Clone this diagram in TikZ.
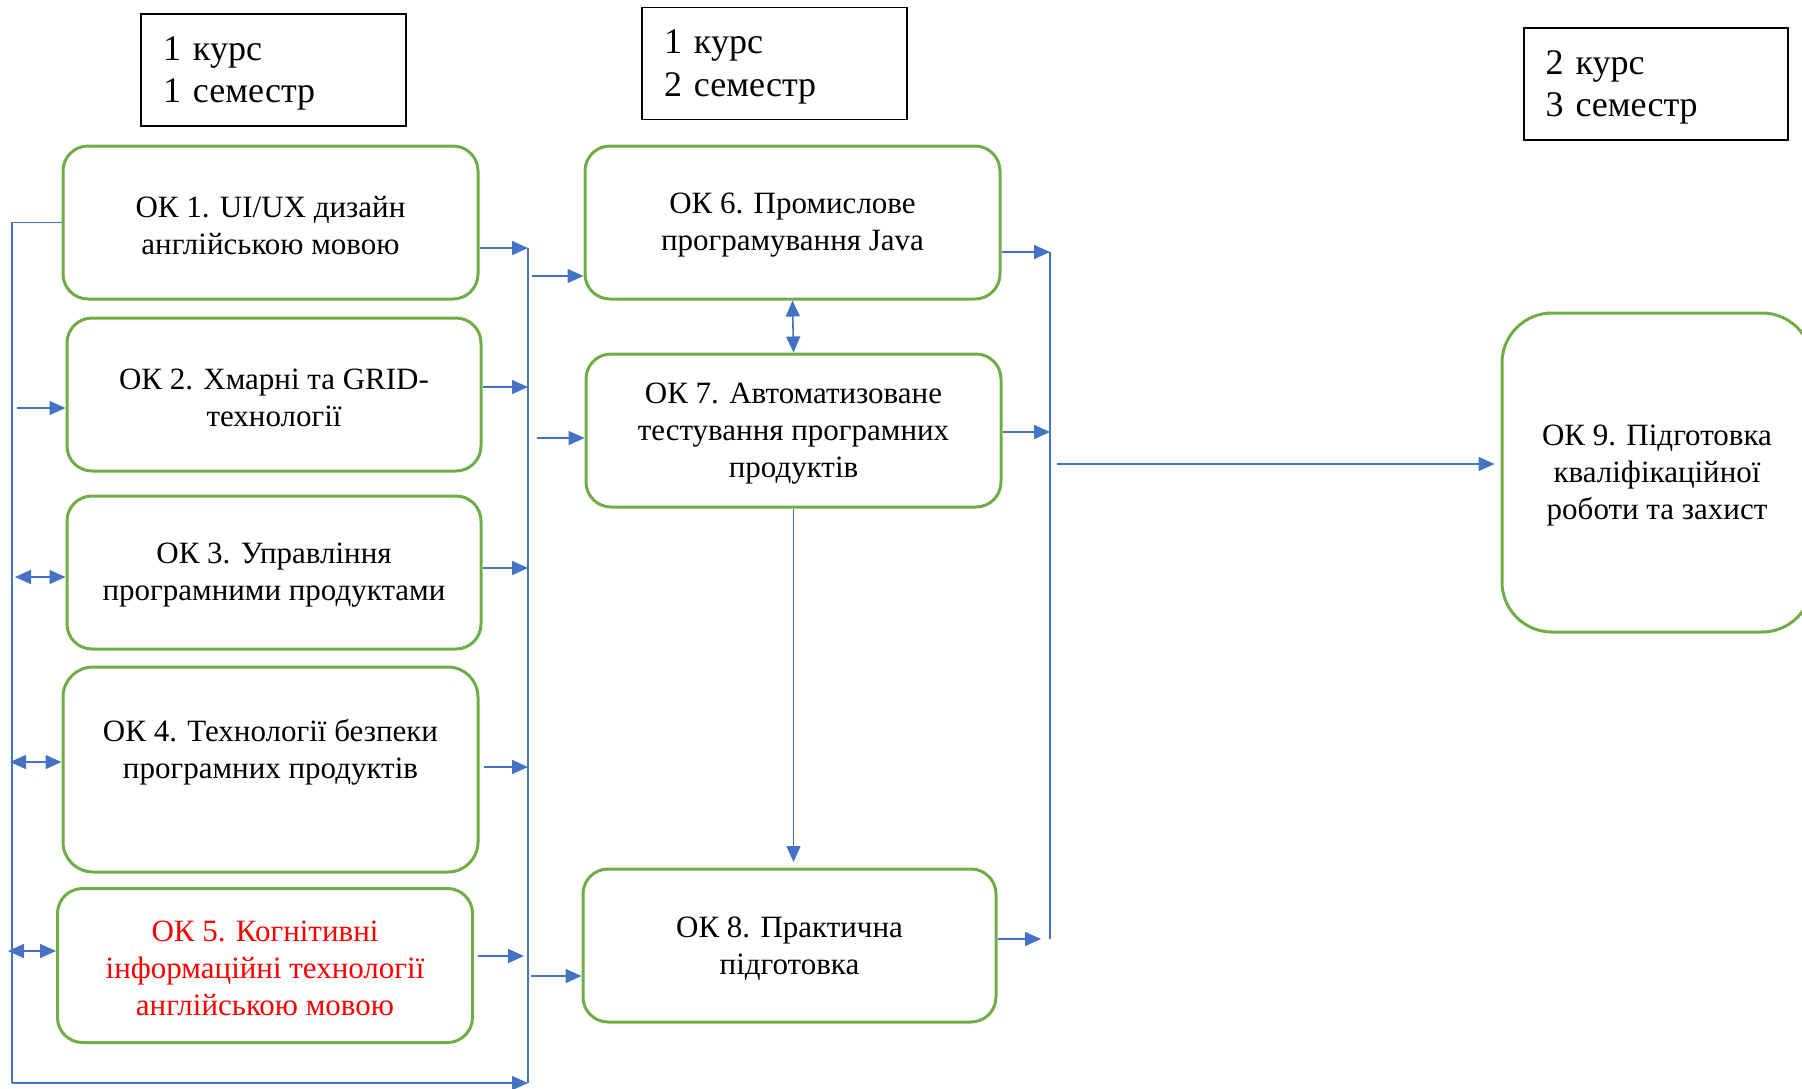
\documentclass[tikz,border=0pt]{standalone}
\usepackage{fontspec}
\setmainfont{Liberation Serif}
\newfontfamily\tnr{Liberation Serif}
\usetikzlibrary{arrows.meta,calc}
\definecolor{okgreen}{HTML}{70AD47}
\definecolor{okblue}{HTML}{4472C4}
\definecolor{okred}{HTML}{FF0000}
\begin{document}
\begin{tikzpicture}[x=1pt,y=-1pt,
  box/.style={draw=okgreen, line width=3pt, rounded corners=25pt,
    inner sep=0pt, minimum width=415pt, minimum height=153pt},
  boxtext/.style={align=center, font=\tnr\fontsize{31}{37}\selectfont, inner sep=0pt},
  hdr/.style={draw=black, line width=1.4pt, inner sep=0pt, minimum height=112pt},
  hdrtext/.style={align=left, inner sep=0pt, font=\tnr\fontsize{36}{42.5}\selectfont, text width=224pt},
  wire/.style={draw=okblue, line width=1.6pt},
  buswire/.style={draw=okblue, line width=2.2pt},
  arr/.style={draw=okblue, line width=1.6pt, -{Triangle[length=16pt,width=14pt]}},
  darr/.style={draw=okblue, line width=1.6pt, {Triangle[length=16pt,width=14pt]}-{Triangle[length=16pt,width=14pt]}}
]
\useasboundingbox (0,0) rectangle (1802,1088);
\clip (0,0) rectangle (1802,1088);

% headers
\node[hdr, minimum width=265pt] (h1) at (273.5,70) {};
\node[hdrtext] (h1t) at (275,73.5) {1 курс\\1 семестр};
\node[hdr, minimum width=265pt] (h2) at (774.5,63.5) {};
\node[hdrtext] (h2t) at (776,67) {1 курс\\2 семестр};
\node[hdr, minimum width=264pt] (h3) at (1656,84) {};
\node[hdrtext] (h3t) at (1657.5,87.5) {2 курс\\3 семестр};

% first column
\node[box] (ok1) at (270.5,222.5) {};
\node[boxtext] (ok1t) at (270.5,225.5) {ОК 1. UI/UX дизайн\\англійською мовою};
\node[box, minimum width=414pt] (ok2) at (274,394.5) {};
\node[boxtext] (ok2t) at (274,397.5) {ОК 2. Хмарні та GRID-\\технології};
\node[box, minimum width=414pt] (ok3) at (274,572.5) {};
\node[boxtext] (ok3t) at (274,575.5) {ОК 3. Управління\\програмними продуктами};
\node[box, minimum height=205pt, rounded corners=30pt] (ok4) at (270.5,769.5) {};
\node[boxtext] (ok4t) at (270.5,752.5) {ОК 4. Технології безпеки\\програмних продуктів};
\node[box, minimum height=154pt] (ok5) at (265,965.5) {};
\node[boxtext, text=okred] (ok5t) at (265,968.5) {ОК 5. Когнітивні\\інформаційні технології\\англійською мовою};

% second column
\node[box] (ok6) at (792.5,222.5) {};
\node[boxtext] (ok6t) at (792.5,225.5) {ОК 6. Промислове\\програмування Java};
\node[box] (ok7) at (793.5,430.5) {};
\node[boxtext] (ok7t) at (793.5,433.5) {ОК 7. Автоматизоване\\тестування програмних\\продуктів};
\node[box, minimum width=413pt] (ok8) at (789.5,945.5) {};
\node[boxtext] (ok8t) at (789.5,948.5) {ОК 8. Практична\\підготовка};

% third column
\node[box, minimum width=310pt, minimum height=319pt, rounded corners=50pt] (ok9) at (1657,472.5) {};
\node[boxtext] (ok9t) at (1657,475.5) {ОК 9. Підготовка\\кваліфікаційної\\роботи та захист};

% left bus
\coordinate (Ltop) at (12,222.5);
\coordinate (Lbot) at (12,1083);
\coordinate (Mtop) at (528,248);
\coordinate (Mbot) at (528,1083);
\draw[wire] (ok1.west) -- (Ltop) -- (Lbot);
\draw[arr] (Lbot) -- (Mbot);
\draw[buswire] (Mtop) -- (Mbot);

\coordinate (l2) at (17,408);
\coordinate (l3) at (15,577);
\coordinate (l4) at (10,762);
\coordinate (l5) at (8,951);
\draw[arr] (l2) -- (l2 -| ok2.west);
\draw[darr] (l3) -- (l3 -| ok3.west);
\draw[darr] (l4) -- (l4 -| ok4.west);
\draw[darr] (l5) -- (l5 -| ok5.west);

% into the middle bus
\coordinate (m1) at (528,248);
\coordinate (m2) at (528,387);
\coordinate (m3) at (528,568);
\coordinate (m4) at (528,767);
\coordinate (m5) at (524,956);
\draw[arr] (m1 -| ok1.east) -- (m1);
\draw[arr] (m2 -| ok2.east) -- (m2);
\draw[arr] (m3 -| ok3.east) -- (m3);
\draw[arr] ($(m4 -| ok4.east)+(4,0)$) -- (m4);
\draw[arr] ($(m5 -| ok5.east)+(4,0)$) -- (m5);

% out of the middle bus
\coordinate (n6) at (532,276);
\coordinate (n7) at (537,438);
\coordinate (n8) at (531,976);
\draw[arr] (n6) -- (n6 -| ok6.west);
\draw[arr] (n7) -- (n7 -| ok7.west);
\draw[arr] (n8) -- (n8 -| ok8.west);

% between OK6, OK7, OK8
\draw[darr] (ok6.south) -- (ok7.north);
\coordinate (c78) at (793.5,862);
\draw[arr] (ok7.south) -- (c78);

% right bus
\coordinate (Rtop) at (1050,252);
\coordinate (Rbot) at (1050,939);
\draw[buswire] (Rtop) -- (Rbot);
\coordinate (r6) at (1050,252);
\coordinate (r7) at (1050,432);
\coordinate (r8) at (1041,939);
\draw[arr] (r6 -| ok6.east) -- (r6);
\draw[arr] (r7 -| ok7.east) -- (r7);
\draw[arr] (r8 -| ok8.east) -- (r8);

\coordinate (r9) at (1057,464);
\draw[wire, -{Triangle[length=16pt,width=14pt]}] (r9) -- ($(r9 -| ok9.west)+(-6,0)$);
\end{tikzpicture}
\end{document}
